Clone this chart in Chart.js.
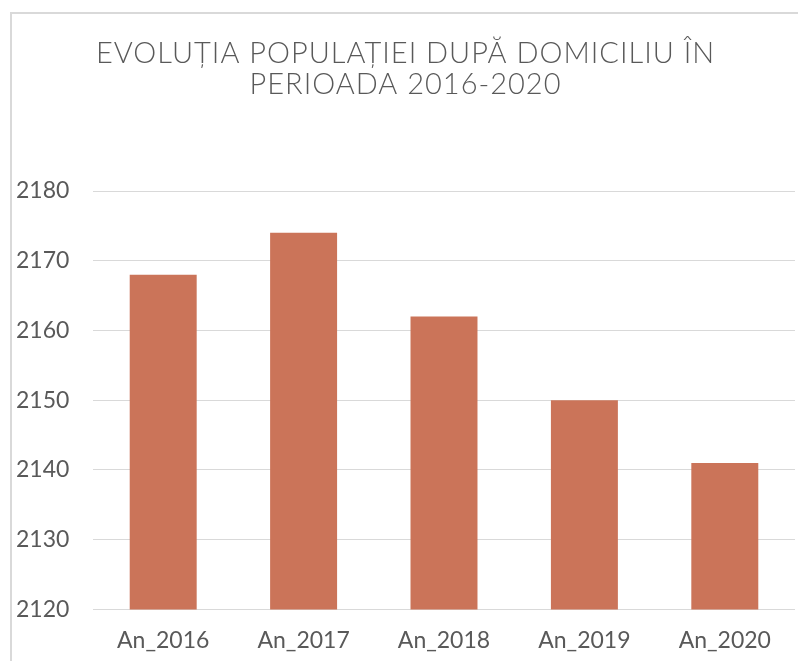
<!DOCTYPE html>
<html>
<head>
<meta charset="utf-8">
<script src="https://cdn.jsdelivr.net/npm/chart.js@4/dist/chart.umd.min.js"></script>
<style>
  html, body { margin: 0; padding: 0; background: #fff; overflow: hidden; }
  #frame { position: absolute; left: 10px; top: 12px; width: 800px; height: 660px; border: 2px solid #d9d9d9; }
  #wrap { position: absolute; left: 0; top: 0; width: 798px; height: 661px; }
</style>
</head>
<body>
<div id="frame"></div>
<div id="wrap"><canvas id="myChart"></canvas></div>
<script>
const years = ["An_2016", "An_2017", "An_2018", "An_2019", "An_2020"];
const population = [2168, 2174, 2162, 2150, 2141];
const titleLines = ["EVOLUȚIA POPULAȚIEI DUPĂ DOMICILIU ÎN", "PERIOADA 2016-2020"];

const ctx = document.getElementById("myChart");
const chart = new Chart(ctx, {
  type: "bar",
  data: {
    labels: years,
    datasets: [
      {
        label: "Populație",
        data: population,
        backgroundColor: "#cb7459",
        borderWidth: 0,
        barPercentage: 1,
        categoryPercentage: 0.477,
      },
    ],
  },
  options: {
    responsive: true,
    maintainAspectRatio: false,
    animation: false,
    layout: { padding: { top: 38, left: 16, right: 3, bottom: -10 } },
    plugins: {
      legend: { display: false },
      tooltip: { enabled: false },
      title: {
        display: true,
        text: titleLines,
        color: "#595959",
        font: { family: "Lato", size: 29, weight: "300", lineHeight: "31px" },
        padding: { top: 0, bottom: 91 },
      },
    },
    scales: {
      x: {
        grid: { display: false, drawTicks: false },
        border: { display: false },
        ticks: { color: "#595959", font: { family: "Lato", size: 23 }, padding: 17 },
      },
      y: {
        min: 2120,
        max: 2180,
        grid: { color: "#d9d9d9", drawTicks: false },
        border: { display: false },
        ticks: {
          stepSize: 10,
          color: "#595959",
          font: { family: "Lato", size: 23 },
          padding: 24,
          crossAlign: "far",
          callback: (v) => String(v), // no thousands comma
        },
        afterFit: (scale) => { scale.width = 77; }, // grid starts at x=93 like the original
      },
    },
  },
});

// title in the original is wider (letter spaced), so spread the letters a bit
const origTitleDraw = chart.titleBlock.draw;
chart.titleBlock.draw = function () {
  const c = chart.ctx;
  c.save();
  c.letterSpacing = "1px";
  origTitleDraw.apply(this, arguments);
  c.restore();
};
chart.draw();
</script>
</body>
</html>
